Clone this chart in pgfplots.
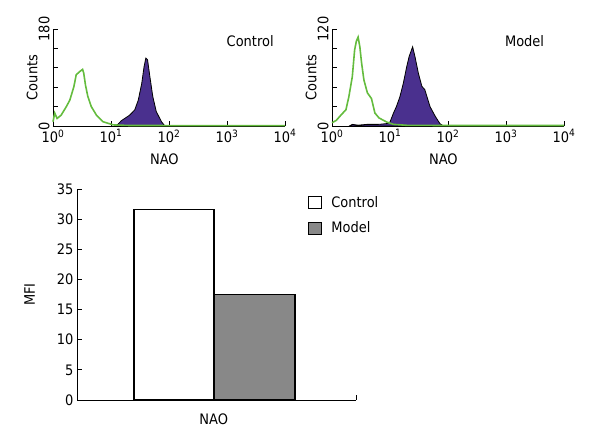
\documentclass[border=0pt]{standalone}
\usepackage{fontspec}
\setmainfont{DejaVu Sans Condensed}
\usepackage{pgfplots}
\pgfplotsset{compat=1.18}
\definecolor{histgreen}{RGB}{100,188,62}
\definecolor{histpurple}{RGB}{74,48,142}
\definecolor{bargray}{RGB}{136,136,136}
\begin{document}
\begin{tikzpicture}
\useasboundingbox (0,0) rectangle (591bp,445bp);
\pgfplotsset{
  every axis/.append style={font=\fontsize{14.5}{16}\selectfont, /pgf/number format/assume math mode=true},
  hist/.style={
    scale only axis, width=232bp, height=97bp, anchor=south west,
    axis x line*=bottom, axis y line*=left,
    xmin=0, xmax=4, ymin=0,
    xtick={0,1,2,3,4},
    xticklabels={10\textsuperscript{0},10\textsuperscript{1},10\textsuperscript{2},10\textsuperscript{3},10\textsuperscript{4}},
    tick align=inside, major tick length=5bp,
    axis line style={line width=0.8bp},
    tick style={line width=0.8bp, black},
    yticklabel style={rotate=90, anchor=south},
    ylabel={Counts}, xlabel={NAO},
    ylabel style={at={(axis description cs:-0.09,0.5)}, anchor=center},
    xlabel style={at={(axis description cs:0.48,-0.34)}, anchor=center},
    clip=false,
  },
}
% ---------- Control histogram ----------
\begin{axis}[hist, at={(53bp,319bp)}, ymax=180,
  ytick={0,36,72,108,144,180}, yticklabels={0,,,,,180}]
\addplot[fill=histpurple, draw=black, line width=0.8bp] coordinates {
 (1.09,0) (1.18,10) (1.32,20) (1.41,30) (1.47,48) (1.53,79) (1.57,110)
 (1.60,126) (1.63,123) (1.67,92) (1.72,55) (1.78,27) (1.87,8) (1.93,0)
} \closedcycle;
\addplot[histgreen, line width=1.6bp] coordinates {
 (0,8) (0.03,24) (0.07,14) (0.14,20) (0.23,36) (0.29,48) (0.36,73)
 (0.40,95) (0.46,101) (0.51,105) (0.53,98) (0.56,76) (0.60,55) (0.66,36)
 (0.75,20) (0.86,8) (1.04,2) (1.3,1) (2,0.8) (3,0.8) (4,0.8)
};
\node at (rel axis cs:0.85,0.876) {Control};
\end{axis}
% ---------- Model histogram ----------
\begin{axis}[hist, at={(332bp,319bp)}, ymax=120,
  ytick={0,24,48,72,96,120}, yticklabels={0,,,,,120}]
\addplot[fill=histpurple, draw=black, line width=0.8bp] coordinates {
 (0.3,0) (0.35,2) (0.45,1) (0.6,2) (0.8,2) (0.95,3)
 (1.00,5) (1.06,16) (1.11,24) (1.17,36) (1.23,53) (1.29,74) (1.33,86)
 (1.39,98) (1.43,86) (1.49,65) (1.55,49) (1.60,45) (1.69,24) (1.78,12)
 (1.86,3) (1.92,0)
} \closedcycle;
\addplot[histgreen, line width=1.6bp] coordinates {
 (0,4) (0.075,7) (0.16,14) (0.24,20) (0.29,36) (0.35,61) (0.39,94)
 (0.42,105) (0.45,110) (0.48,98) (0.51,78) (0.55,57) (0.61,41) (0.68,34)
 (0.74,16) (0.81,10) (0.94,5) (1.06,2) (1.3,0.8) (2,0.6) (3,0.6) (4,0.6)
};
\node at (rel axis cs:0.83,0.876) {Model};
\end{axis}
% ---------- MFI bar chart ----------
\begin{axis}[
  scale only axis, width=279bp, height=211bp, anchor=south west, at={(77bp,45bp)},
  axis x line*=bottom, axis y line*=left,
  xmin=0, xmax=279, ymin=0, ymax=35,
  ytick={0,5,...,35}, xtick={279}, xticklabels={},
  tick align=inside, major tick length=5bp,
  axis line style={line width=0.8bp},
  tick style={line width=0.8bp, black},
  ylabel={MFI}, xlabel={NAO},
  ylabel style={at={(axis description cs:-0.17,0.5)}, anchor=center},
  xlabel style={at={(axis description cs:0.49,-0.09)}, anchor=center},
  clip=false,
  legend cell align=left,
  legend style={draw=none, fill=none, at={(0.815,0.985)}, anchor=north west,
    row sep=9bp, font=\fontsize{14.5}{16}\selectfont},
  legend image code/.code={\draw[#1, line width=0.8bp] (0bp,-6bp) rectangle (13bp,6bp);},
]
\addplot[ybar, bar shift=0pt, bar width=80, fill=white, draw=black, line width=1.3bp]
  coordinates {(97,31.6)};
\addlegendentry{\hspace{8bp}Control}
\addplot[ybar, bar shift=0pt, bar width=81, fill=bargray, draw=black, line width=1.3bp]
  coordinates {(177.5,17.5)};
\addlegendentry{\hspace{8bp}Model}
\end{axis}
\end{tikzpicture}
\end{document}
